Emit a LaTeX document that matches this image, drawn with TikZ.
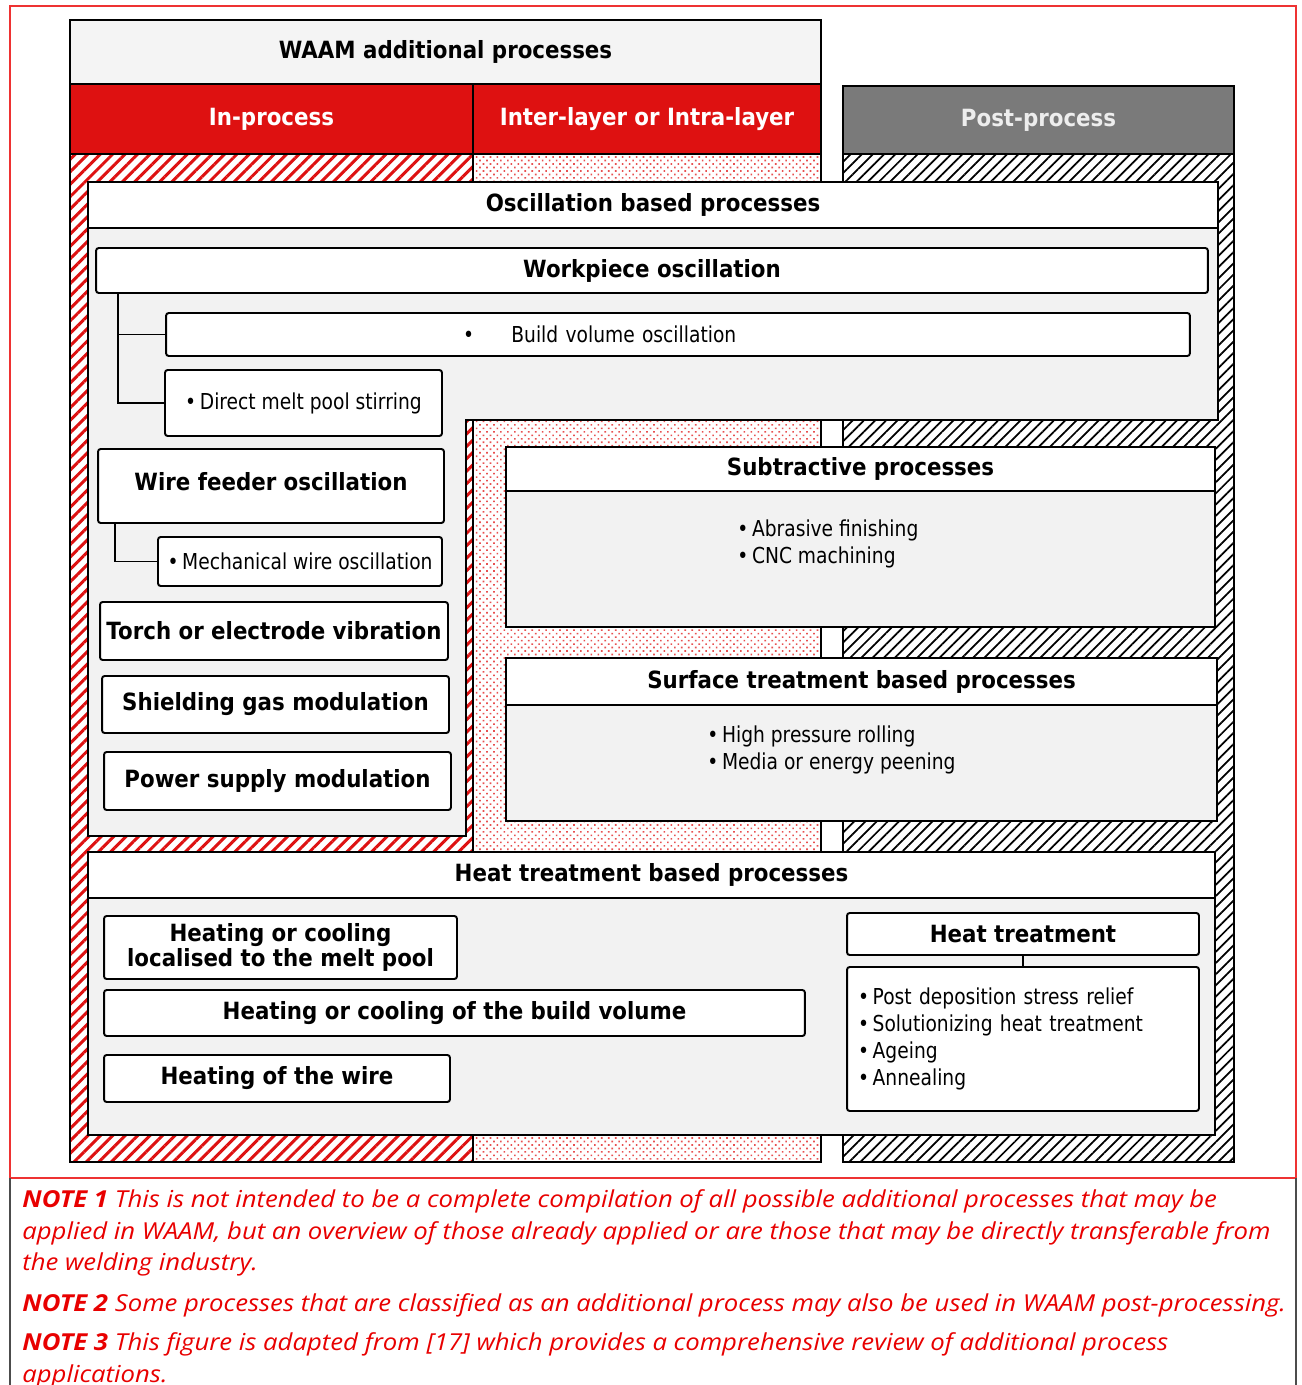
\documentclass[tikz,border=0pt]{standalone}
\usepackage{fontspec}
\usepackage{xcolor}
\usepackage{tikz}
\usetikzlibrary{patterns.meta}

\newfontfamily\boxfont[FakeStretch=0.9]{DejaVu Sans}
\newfontfamily\itemfont[FakeStretch=0.85]{DejaVu Sans}
\newfontfamily\notefont[FakeStretch=1.1]{Open Sans}
\newcommand{\titlefnt}{\boxfont\fontsize{13.5}{16}\selectfont\bfseries}
\newcommand{\itemfnt}{\itemfont\fontsize{12.5}{15.5}\selectfont}
\newcommand{\notefnt}{\notefont\fontsize{13.3}{18.1}\selectfont\itshape}

\definecolor{waamred}{RGB}{222,17,17}
\definecolor{postgrey}{RGB}{122,122,122}
\definecolor{titlegrey}{RGB}{244,244,244}
\definecolor{panelgrey}{RGB}{242,242,242}
\definecolor{dotred}{RGB}{232,80,80}
\definecolor{notered}{RGB}{232,0,0}
\definecolor{framered}{RGB}{238,50,50}

\begin{document}
\begin{tikzpicture}[x=0.02cm, y=-0.02cm,
    header/.style={draw=black, line width=1.1pt, inner sep=1pt,
                   minimum height=1.4cm, font=\titlefnt},
    box/.style={draw=black, line width=1.1pt, rounded corners=1.5pt,
                fill=white, inner sep=1pt, align=center, font=\titlefnt},
    item/.style={box, font=\itemfnt},
    band/.style={draw=black, line width=1.1pt, fill=white, inner sep=1pt,
                 minimum height=0.92cm, font=\titlefnt},
    panel/.style={draw=black, line width=1.1pt, fill=panelgrey, inner sep=0pt},
    list/.style={inner sep=0pt, align=left, font=\itemfnt},
    link/.style={draw=black, line width=1.1pt},
    redhatch/.style={pattern={Lines[angle=45, distance=5pt, line width=1.7pt]},
                     pattern color=waamred},
    blackhatch/.style={pattern={Lines[angle=45, distance=4.5pt, line width=1pt]},
                       pattern color=black},
    reddots/.style={pattern={Dots[angle=45, distance=2.8pt, radius=0.65pt]},
                    pattern color=dotred}
]
    \useasboundingbox (0,0) rectangle (1301,1385);

    % ── cadre ──
    \draw[framered, line width=1pt] (10,6) rectangle (1296,1178);
    \draw[black!70, line width=0.8pt] (10,1178) -- (10,1385);
    \draw[black!70, line width=0.8pt] (1296,1178) -- (1296,1385);

    % ── colonnes (fonds hachures / points) ──
    \fill[white] (70,154) rectangle (1234,1162);
    \fill[redhatch] (70,154) rectangle (473,1162);
    \fill[reddots] (473,154) rectangle (821,1162);
    \fill[blackhatch] (843,154) rectangle (1234,1162);
    \draw[line width=1.1pt] (70,154) rectangle (473,1162);
    \draw[line width=1.1pt] (473,154) rectangle (821,1162);
    \draw[line width=1.1pt] (843,154) rectangle (1234,1162);

    % ── en-tetes ──
    \node[header, fill=titlegrey, minimum width=15.02cm, minimum height=1.28cm]
        (Title) at (445.5,52) {WAAM additional processes};
    \node[header, fill=waamred, text=white, minimum width=8.06cm]
        (InProc) at (271.5,119) {In-process};
    \node[header, fill=waamred, text=white, minimum width=6.96cm]
        (InterLayer) at (647,119) {Inter-layer or Intra-layer};
    \node[header, fill=postgrey, text=black!7, minimum width=7.82cm, minimum height=1.36cm]
        (PostProc) at (1038.5,120) {Post-process};

    % ── oscillation ──
    \draw[panel] (88,182) -- (1218,182) -- (1218,420) -- (466,420)
                 -- (466,836) -- (88,836) -- cycle;
    \node[band, minimum width=22.6cm] (OscTitle) at (653,205) {Oscillation based processes};

    \node[box, minimum width=22.24cm, minimum height=0.9cm]
        (Workpiece) at (652,270.5) {Workpiece oscillation};
    \node[item, minimum width=20.48cm, minimum height=0.86cm, text width=20.4cm, align=left]
        (BuildVol) at (678,334.5) {\hspace*{5.9cm}\textbullet\hspace{1.7em}Build volume oscillation};
    \node[item, minimum width=5.54cm, minimum height=1.32cm]
        (Stirring) at (303.5,403) {\textbullet\,Direct melt pool stirring};
    \draw[link] ([xshift=0.46cm]Workpiece.south west) |- (BuildVol.west);
    \draw[link] ([xshift=0.46cm]Workpiece.south west) |- (Stirring.west);

    \node[box, minimum width=6.92cm, minimum height=1.48cm, text depth=0.2cm]
        (WireFeed) at (271,486) {Wire feeder oscillation};
    \node[item, minimum width=5.68cm, minimum height=0.98cm]
        (MechWire) at (300,561.5) {\textbullet\,Mechanical wire oscillation};
    \draw[link] ([xshift=0.36cm]WireFeed.south west) |- (MechWire.west);

    \node[box, minimum width=6.96cm, minimum height=1.16cm]
        (Torch) at (274,631) {Torch or electrode vibration};
    \node[box, minimum width=6.94cm, minimum height=1.14cm]
        (Shielding) at (275.5,704.5) {Shielding gas modulation};
    \node[box, minimum width=6.94cm, minimum height=1.16cm]
        (Power) at (277.5,781) {Power supply modulation};

    % ── inter-couches / post ──
    \node[panel, minimum width=14.18cm, minimum height=3.6cm] (SubBox) at (860.5,537) {};
    \node[band, minimum width=14.18cm, minimum height=0.88cm]
        (SubTitle) at (860.5,469) {Subtractive processes};
    \node[list, anchor=west] (SubList) at (737,544)
        {\textbullet\,Abrasive finishing\\ \textbullet\,CNC machining};

    \node[panel, minimum width=14.22cm, minimum height=3.26cm] (SurfBox) at (861.5,739.5) {};
    \node[band, minimum width=14.22cm, minimum height=0.94cm]
        (SurfTitle) at (861.5,681.5) {Surface treatment based processes};
    \node[list, anchor=west] (SurfList) at (707,750)
        {\textbullet\,High pressure rolling\\ \textbullet\,Media or energy peening};

    % ── traitement thermique ──
    \node[panel, minimum width=22.54cm, minimum height=5.66cm] (HeatBox) at (651.5,993.5) {};
    \node[band, minimum width=22.54cm]
        (HeatTitle) at (651.5,875) {Heat treatment based processes};

    \node[box, minimum width=7.06cm, minimum height=1.26cm, font={\boxfont\fontsize{13.5}{14.5}\selectfont\bfseries}]
        (Localised) at (280.5,947.5) {Heating or cooling\\ localised to the melt pool};
    \node[box, minimum width=14.02cm, minimum height=0.92cm]
        (BuildHeat) at (454.5,1013) {Heating or cooling of the build volume};
    \node[box, minimum width=6.92cm, minimum height=0.94cm]
        (WireHeat) at (277,1078.5) {Heating of the wire};

    \node[box, minimum width=7.04cm, minimum height=0.84cm]
        (HeatTreat) at (1023,934) {Heat treatment};
    \node[item, minimum width=7.04cm, minimum height=2.88cm, text width=6.6cm, align=left]
        (HeatList) at (1023,1039) {\textbullet\,Post deposition stress relief\\
        \textbullet\,Solutionizing heat treatment\\ \textbullet\,Ageing\\ \textbullet\,Annealing};
    \draw[link] (HeatTreat) -- (HeatList);

    % ── notes ──
    \node[anchor=north west, inner sep=0pt, align=left, font=\notefnt, text=notered]
        (Note1) at (22,1189) {\textbf{NOTE 1} This is not intended to be a complete compilation of all possible additional processes that may be\\
        applied in WAAM, but an overview of those already applied or are those that may be directly transferable from\\
        the welding industry.};
    \node[anchor=north west, inner sep=0pt, align=left, font=\notefnt, text=notered]
        (Note2) at (22,1293) {\textbf{NOTE 2} Some processes that are classified as an additional process may also be used in WAAM post-processing.};
    \node[anchor=north west, inner sep=0pt, align=left, font=\notefnt, text=notered]
        (Note3) at (22,1332) {\textbf{NOTE 3} This figure is adapted from [17] which provides a comprehensive review of additional process\\
        applications.};

\end{tikzpicture}
\end{document}
